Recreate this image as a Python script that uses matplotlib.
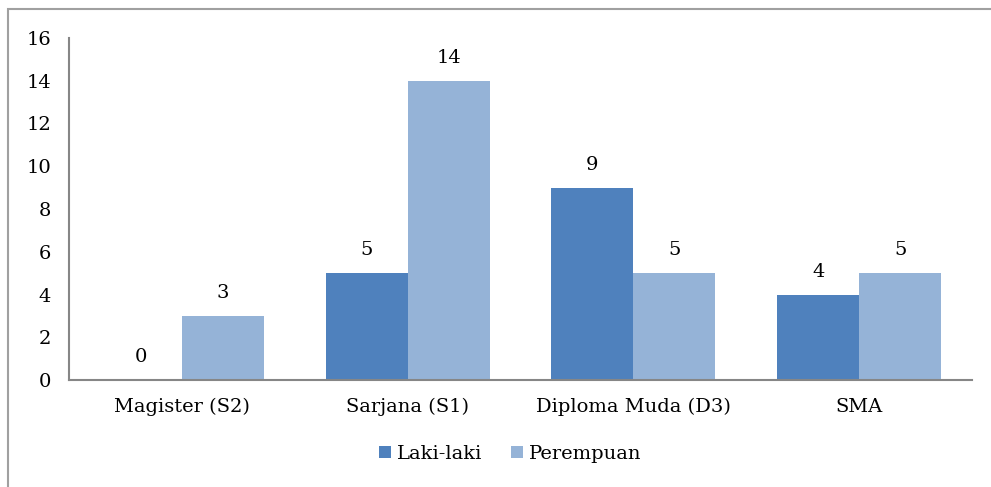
import numpy as np
import matplotlib.pyplot as plt
from matplotlib.patches import Rectangle

categories = ['Magister (S2)', 'Sarjana (S1)', 'Diploma Muda (D3)', 'SMA']
laki = [0, 5, 9, 4]
perempuan = [3, 14, 5, 5]

plt.rcParams['font.family'] = 'DejaVu Serif'

W, H = 991, 487
fig = plt.figure(figsize=(W / 100, H / 100), dpi=100)
ax = fig.add_axes([69 / W, 1 - 380 / H, (972 - 69) / W, (380 - 38) / H])

# outer chart border (runs off the right and bottom edges)
fig.patches.append(Rectangle((8 / W, -0.1), 1.2, 1 - 9 / H + 0.1, transform=fig.transFigure,
                             fill=False, edgecolor='#a0a0a0', linewidth=1.5))

x = np.arange(len(categories))
w = 0.363
b1 = ax.bar(x - w / 2, laki, w, color='#4f81bd', label='Laki-laki')
b2 = ax.bar(x + w / 2, perempuan, w, color='#95b3d7', label='Perempuan')

for bars in (b1, b2):
    for b in bars:
        ax.annotate(str(int(b.get_height())), (b.get_x() + b.get_width() / 2, b.get_height()),
                    xytext=(0, 10), textcoords='offset points', ha='center', va='bottom',
                    fontsize=14)

ax.set_xlim(-0.5, 3.5)
ax.set_ylim(0, 16)
ax.set_yticks(range(0, 17, 2))
ax.set_xticks(x)
ax.set_xticklabels(categories)
ax.tick_params(length=0, labelsize=14)
ax.tick_params(axis='y', pad=13)
ax.tick_params(axis='x', pad=13)
for s in ('top', 'right'):
    ax.spines[s].set_visible(False)
for s in ('left', 'bottom'):
    ax.spines[s].set_color('#868686')
    ax.spines[s].set_linewidth(1.5)

fig.legend(loc='center', bbox_to_anchor=(510 / W, 1 - 454 / H), ncol=2, frameon=False,
           fontsize=14, handlelength=0.6, handleheight=0.6, handletextpad=0.3,
           columnspacing=1.5)

fig.savefig('out.png', dpi=100)
